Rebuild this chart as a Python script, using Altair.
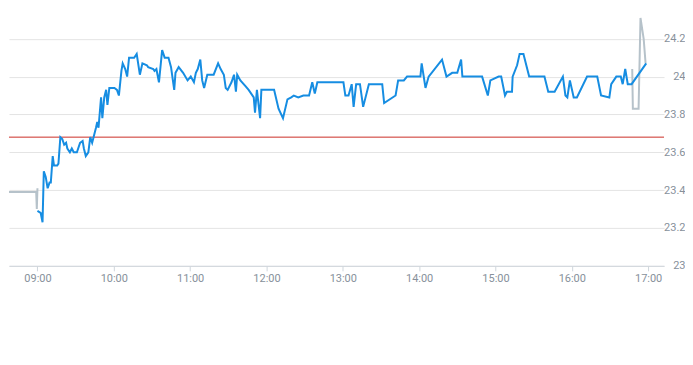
import altair as alt
import pandas as pd

DAY = "2024-01-02"

# Regular session (blue)
reg_times = [
    "09:00:00", "09:02:30", "09:04:00", "09:05:00", "09:06:30", "09:08:00", "09:09:30", "09:10:30",
    "09:12:00", "09:13:00", "09:15:30", "09:16:30", "09:18:00", "09:19:30", "09:21:00", "09:22:30",
    "09:23:30", "09:25:30", "09:27:00", "09:28:30", "09:31:00", "09:32:00", "09:33:30", "09:35:30",
    "09:36:30", "09:38:00", "09:40:00", "09:41:30", "09:43:00", "09:44:30", "09:46:00", "09:47:00",
    "09:48:00", "09:49:00", "09:50:00", "09:51:00", "09:52:30", "09:54:00", "09:55:00", "09:56:30",
    "10:00:30", "10:02:30", "10:04:00", "10:06:00", "10:07:00", "10:09:00", "10:10:30", "10:12:00",
    "10:16:00", "10:18:00", "10:20:30", "10:22:30", "10:26:00", "10:27:00", "10:31:00", "10:32:00",
    "10:33:30", "10:35:30", "10:38:00", "10:40:00", "10:43:00", "10:45:00", "10:47:30", "10:48:30",
    "10:51:00", "10:54:30", "10:58:00", "11:00:30", "11:03:00", "11:04:30", "11:06:00", "11:08:00",
    "11:09:30", "11:11:00", "11:13:30", "11:18:30", "11:22:00", "11:24:00", "11:26:30", "11:28:00",
    "11:29:30", "11:32:30", "11:34:30", "11:36:00", "11:37:00", "11:39:30", "11:43:30", "11:46:00",
    "11:50:00", "11:51:00", "11:52:30", "11:55:00", "11:56:00", "12:06:00", "12:09:30", "12:13:00",
    "12:16:30", "12:19:30", "12:21:30", "12:25:00", "12:29:00", "12:33:30", "12:36:00", "12:38:00",
    "12:40:00", "13:00:30", "13:02:00", "13:04:30", "13:07:00", "13:08:30", "13:10:30", "13:13:30",
    "13:16:00", "13:20:30", "13:31:00", "13:32:30", "13:41:30", "13:43:30", "13:48:00", "13:50:30",
    "14:01:00", "14:02:00", "14:05:00", "14:07:30", "14:18:00", "14:21:30", "14:26:00", "14:30:00",
    "14:33:00", "14:34:00", "14:49:30", "14:54:00", "14:56:00", "15:02:30", "15:04:30", "15:07:30",
    "15:09:00", "15:13:00", "15:13:30", "15:17:00", "15:19:00", "15:22:00", "15:26:30", "15:38:30",
    "15:41:30", "15:46:30", "15:53:00", "15:55:00", "15:56:30", "15:58:30", "16:01:30", "16:04:00",
    "16:12:00", "16:20:00", "16:23:00", "16:29:30", "16:31:00", "16:35:00", "16:38:30", "16:40:00",
    "16:42:00", "16:44:00", "16:47:00", "16:58:30",
]
reg_values = [
    23.29, 23.28, 23.23, 23.50, 23.47, 23.41, 23.44, 23.44,
    23.58, 23.53, 23.53, 23.54, 23.68, 23.67, 23.64, 23.65,
    23.62, 23.60, 23.62, 23.60, 23.60, 23.62, 23.65, 23.66,
    23.62, 23.58, 23.60, 23.68, 23.65, 23.69, 23.73, 23.76,
    23.73, 23.81, 23.89, 23.78, 23.89, 23.93, 23.85, 23.94,
    23.94, 23.93, 23.90, 24.03, 24.07, 24.04, 24.00, 24.10,
    24.10, 24.12, 24.01, 24.07, 24.06, 24.05, 24.04, 24.03,
    24.04, 23.97, 24.14, 24.10, 24.10, 24.05, 23.93, 24.02,
    24.05, 24.02, 23.98, 24.00, 23.97, 24.02, 24.04, 24.09,
    23.98, 23.94, 24.01, 24.01, 24.07, 24.04, 24.01, 23.94,
    23.93, 23.97, 24.01, 23.92, 24.01, 23.98, 23.95, 23.93,
    23.89, 23.81, 23.93, 23.78, 23.93, 23.93, 23.83, 23.78,
    23.88, 23.89, 23.90, 23.89, 23.90, 23.90, 23.97, 23.91,
    23.97, 23.97, 23.90, 23.90, 23.96, 23.84, 23.96, 23.96,
    23.84, 23.96, 23.96, 23.86, 23.90, 23.98, 23.98, 24.00,
    24.00, 24.07, 23.94, 24.00, 24.09, 24.00, 24.02, 24.02,
    24.09, 24.00, 24.00, 23.90, 23.98, 24.00, 24.00, 23.90,
    23.92, 23.92, 24.00, 24.06, 24.12, 24.12, 24.00, 24.00,
    23.92, 23.92, 24.00, 23.90, 23.89, 23.98, 23.89, 23.89,
    24.00, 24.00, 23.90, 23.89, 23.96, 24.00, 24.00, 23.96,
    24.04, 23.96, 23.96, 24.07,
]

# Extended hours (grey)
pre_times = ["08:31:20", "08:31:30", "08:36:00", "08:59:00", "08:59:30", "09:00:00"]
pre_values = [23.95, 23.30, 23.39, 23.39, 23.30, 23.41]
post_times = ["16:47:30", "16:48:00", "16:52:30", "16:54:00", "16:56:30", "16:58:00"]
post_values = [24.04, 23.83, 23.83, 24.31, 24.20, 24.07]

prev_close = [23.68]
y_ticks = [23, 23.2, 23.4, 23.6, 23.8, 24, 24.2]
x_tick_hours = [9, 10, 11, 12, 13, 14, 15, 16, 17]

reg = pd.DataFrame({"t": [f"{DAY}T{s}" for s in reg_times], "v": reg_values})
reg["i"] = range(len(reg))
ext = pd.DataFrame({
    "t": [f"{DAY}T{s}" for s in pre_times + post_times],
    "v": pre_values + post_values,
    "seg": ["pre"] * len(pre_times) + ["post"] * len(post_times),
})
ext["i"] = range(len(ext))
rule_df = pd.DataFrame({"v": prev_close})

LABEL = "#87919b"
x_enc = alt.X(
    "t:T",
    scale=alt.Scale(domain=[
        alt.DateTime(year=2024, month=1, date=2, hours=8, minutes=37, seconds=38),
        alt.DateTime(year=2024, month=1, date=2, hours=17, minutes=12, seconds=30),
    ]),
    axis=alt.Axis(
        format="%H:%M",
        values=[alt.DateTime(year=2024, month=1, date=2, hours=h) for h in x_tick_hours],
        title=None, grid=False,
        domainColor="#cfd6dc", tickColor="#cfd6dc", tickSize=5, labelColor=LABEL,
        labelFontSize=11, labelFont="Roboto", labelPadding=2, labelFlush=False,
    ),
)
y_enc = alt.Y(
    "v:Q",
    scale=alt.Scale(domain=[23, 24.3615], nice=False, zero=False),
    axis=alt.Axis(
        orient="right", values=y_ticks, format=".3~g", title=None,
        grid=True, gridColor="#e4e4e4", domain=False, ticks=False, labelColor=LABEL,
        labelFontSize=11, labelFont="Roboto", labelAlign="right", labelPadding=21, labelFlush=False,
    ),
)

rule = alt.Chart(rule_df).mark_rule(color="#cc2e26", strokeWidth=1).encode(y=y_enc)
grey = alt.Chart(ext).mark_line(color="#b6c2ca", strokeWidth=2, clip=True).encode(
    x=x_enc, y=y_enc, detail="seg:N", order="i:Q")
blue = alt.Chart(reg).mark_line(color="#168de2", strokeWidth=2, clip=True).encode(
    x=x_enc, y=y_enc, order="i:Q")

chart = alt.layer(rule, grey, blue).properties(
    width=656, height=258,
    padding={"left": 0, "top": 0, "right": 0, "bottom": 0},
).configure_view(strokeWidth=0)

chart.save("out.html", embed_options={"renderer": "svg", "actions": False})
